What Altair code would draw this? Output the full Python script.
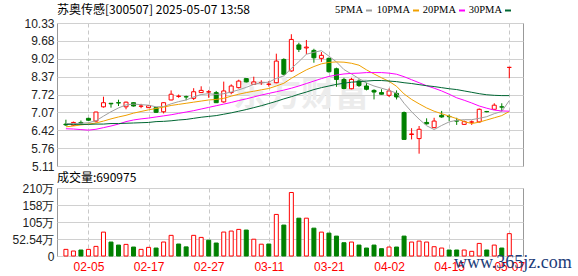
import json
import altair as alt
import pandas as pd

# ---------------- data ----------------
idx = list(range(60))
opens = [6.64, 6.60, 6.70, 6.85, 6.75, 7.27, 7.40, 7.42, 7.27, 7.42,
         7.29, 7.24, 7.24, 7.09, 7.52, 7.65, 7.64, 7.58, 7.79, 7.81,
         7.79, 7.45, 7.79, 7.97, 8.30, 8.09, 8.15, 8.09, 8.15, 9.00,
         8.58, 9.53, 9.42, 9.33, 9.04, 9.04, 8.66, 8.27, 7.93, 8.21,
         8.03, 7.87, 7.79, 7.69, 7.76, 7.06, 6.26, 6.11, 6.70, 6.51,
         6.96, 6.92, 6.76, 6.63, 6.71, 6.72, 7.10, 7.18, 7.27, 8.71]
highs = [6.80, 6.73, 6.77, 6.87, 7.09, 7.64, 7.40, 7.53, 7.46, 7.43,
         7.38, 7.33, 7.26, 7.43, 7.87, 7.72, 7.68, 7.95, 8.02, 7.88,
         7.85, 8.19, 8.09, 8.26, 8.31, 8.37, 8.24, 8.21, 9.21, 9.04,
         9.92, 9.61, 9.71, 9.39, 9.27, 9.07, 8.70, 8.33, 8.33, 8.27,
         8.15, 7.91, 7.91, 7.94, 7.87, 7.10, 6.49, 6.57, 6.85, 6.87,
         7.12, 6.99, 6.87, 6.77, 6.77, 7.21, 7.12, 7.40, 7.40, 8.71]
lows = [6.57, 6.57, 6.63, 6.76, 6.70, 7.24, 7.24, 7.30, 7.18, 7.28,
        7.22, 7.23, 7.05, 7.03, 7.51, 7.60, 7.51, 7.52, 7.78, 7.60,
        7.41, 7.42, 7.73, 7.94, 8.16, 8.07, 8.07, 8.01, 8.13, 8.42,
        8.55, 9.27, 9.19, 8.88, 8.91, 8.52, 8.00, 7.91, 7.91, 7.99,
        7.87, 7.54, 7.72, 7.63, 7.54, 6.08, 6.08, 5.56, 6.62, 6.49,
        6.87, 6.75, 6.61, 6.61, 6.61, 6.69, 7.07, 7.18, 7.12, 8.31]
closes = [6.61, 6.70, 6.68, 6.78, 7.08, 7.42, 7.38, 7.41, 7.44, 7.30,
          7.30, 7.31, 7.07, 7.42, 7.73, 7.66, 7.63, 7.82, 7.87, 7.82,
          7.42, 7.85, 8.03, 8.21, 8.18, 8.18, 8.16, 8.10, 8.94, 8.46,
          9.73, 9.37, 9.45, 9.06, 9.15, 8.55, 8.27, 7.94, 8.27, 8.05,
          7.91, 7.81, 7.73, 7.85, 7.63, 6.08, 6.28, 6.45, 6.65, 6.75,
          6.90, 6.91, 6.75, 6.73, 6.72, 7.18, 7.09, 7.33, 7.26, 8.71]
ma5 = [6.66, 6.66, 6.67, 6.69, 6.76, 6.93, 7.09, 7.23, 7.34, 7.37,
       7.35, 7.33, 7.27, 7.28, 7.38, 7.46, 7.52, 7.63, 7.72, 7.75,
       7.72, 7.75, 7.81, 7.89, 7.98, 8.09, 8.15, 8.17, 8.31, 8.40,
       8.67, 8.92, 9.19, 9.26, 9.32, 9.12, 8.91, 8.63, 8.47, 8.30,
       8.14, 8.03, 7.95, 7.87, 7.77, 7.40, 7.09, 6.82, 6.58, 6.44,
       6.59, 6.72, 6.78, 6.80, 6.80, 6.85, 6.91, 7.02, 7.10, 7.50]
ma10 = [6.54, 6.57, 6.61, 6.64, 6.68, 6.75, 6.83, 6.90, 6.96, 7.04,
        7.10, 7.16, 7.21, 7.26, 7.32, 7.36, 7.40, 7.44, 7.48, 7.52,
        7.54, 7.58, 7.66, 7.73, 7.79, 7.84, 7.89, 7.94, 8.03, 8.13,
        8.31, 8.47, 8.62, 8.74, 8.84, 8.89, 8.91, 8.90, 8.86, 8.79,
        8.62, 8.47, 8.33, 8.20, 8.02, 7.74, 7.54, 7.38, 7.23, 7.11,
        7.02, 6.93, 6.84, 6.73, 6.66, 6.71, 6.79, 6.87, 6.95, 7.10]
ma20 = [6.47, 6.46, 6.44, 6.42, 6.45, 6.51, 6.57, 6.64, 6.73, 6.79,
        6.83, 6.86, 6.90, 6.94, 6.98, 7.03, 7.08, 7.13, 7.19, 7.25,
        7.31, 7.37, 7.43, 7.50, 7.56, 7.63, 7.70, 7.76, 7.82, 7.88,
        7.95, 8.03, 8.12, 8.21, 8.30, 8.38, 8.43, 8.47, 8.49, 8.50,
        8.52, 8.52, 8.52, 8.50, 8.46, 8.37, 8.26, 8.15, 8.04, 7.95,
        7.85, 7.73, 7.60, 7.51, 7.41, 7.30, 7.22, 7.15, 7.12, 7.11]
ma30 = [6.63, 6.63, 6.63, 6.63, 6.64, 6.64, 6.66, 6.66, 6.67, 6.68,
        6.69, 6.70, 6.73, 6.74, 6.76, 6.79, 6.81, 6.85, 6.89, 6.92,
        6.95, 7.00, 7.05, 7.11, 7.17, 7.24, 7.31, 7.39, 7.47, 7.56,
        7.64, 7.73, 7.81, 7.90, 7.97, 8.03, 8.09, 8.13, 8.17, 8.19,
        8.21, 8.23, 8.23, 8.21, 8.19, 8.15, 8.12, 8.08, 8.04, 8.01,
        7.97, 7.93, 7.90, 7.85, 7.80, 7.75, 7.71, 7.69, 7.68, 7.68]
# volume in 万 (10k shares)
vols = [20.5, 15.4, 18.5, 20.5, 29.7, 73.8, 43.1, 33.8, 35.9, 27.7,
        20.5, 26.7, 24.6, 43.2, 63.8, 37.0, 28.2, 63.8, 57.5, 48.8,
        40.1, 74.0, 77.1, 82.2, 80.2, 51.9, 36.5, 37.0, 128.5, 95.6,
        196.3, 116.9, 116.9, 86.1, 73.8, 70.7, 61.5, 41.0, 43.1, 33.8,
        24.6, 33.8, 22.6, 27.7, 27.7, 61.5, 43.1, 46.1, 43.1, 28.7,
        24.6, 18.5, 18.5, 18.5, 14.4, 38.9, 18.5, 33.8, 24.6, 69.1]
vol_up = [1, 1, 0, 1, 1, 1, 0, 0, 1, 0,
          1, 1, 0, 1, 1, 0, 0, 1, 1, 0,
          0, 1, 1, 1, 0, 1, 1, 0, 1, 0,
          1, 0, 1, 0, 1, 0, 0, 0, 1, 0,
          0, 0, 0, 1, 0, 0, 1, 1, 1, 1,
          1, 0, 0, 1, 1, 1, 0, 1, 0, 1]

price_ticks = [5.11, 5.76, 6.42, 7.07, 7.72, 8.37, 9.02, 9.68, 10.33]
vol_ticks = [0, 52.54, 105.08, 157.62, 210.16]
vol_tick_labels = ["0", "52.54万", "105万", "158万", "210万"]
date_pos = [3, 11, 19, 27, 35, 43, 51, 59]
date_labels = ["02-05", "02-17", "02-27", "03-11", "03-21", "04-02", "04-15", "05-07"]

title_text = "苏奥传感[300507] 2025-05-07 13:58"
vol_title = "成交量:690975"
ma_names = ["5PMA", "10PMA", "20PMA", "30PMA"]

# ---------------- styles ----------------
RED, GREEN, WHITE = "#ff0000", "#008000", "#ffffff"
MA_COLORS = ["#a0a0a0", "#f0a000", "#ff00ff", "#006633"]
CJK = "Noto Sans CJK SC"
LAT = "Liberation Sans"

df = pd.DataFrame({"i": idx, "o": opens, "h": highs, "l": lows, "c": closes,
                   "ma5": ma5, "ma10": ma10, "ma20": ma20, "ma30": ma30,
                   "v": vols})
df["cc"] = [RED if c >= o else GREEN for o, c in zip(opens, closes)]
df["bf"] = [WHITE if c >= o else GREEN for o, c in zip(opens, closes)]
df["vc"] = [RED if u else GREEN for u in vol_up]
df["vf"] = [WHITE if u else GREEN for u in vol_up]

one = pd.DataFrame({"k": [0]})

PW, PH, VH = 466, 143, 68
x_scale = alt.Scale(domain=[-0.52, 60.16], nice=False, zero=False)
x_axis_price = alt.Axis(values=date_pos, grid=True, gridDash=[4, 3], gridColor="#c8c8c8",
                        labels=False, ticks=False, tickSize=0, domain=False, title=None)
date_expr = f"{json.dumps(date_labels)}[indexof({json.dumps(date_pos)}, datum.value)]"
x_axis_vol = alt.Axis(values=date_pos, grid=True, gridDash=[4, 3], gridColor="#c8c8c8",
                      labels=True, labelExpr=date_expr, labelColor=RED, labelFont=LAT,
                      labelFontSize=12, labelPadding=5, labelOverlap=False, labelFlush=False,
                      ticks=False, tickSize=0, domain=False, title=None)

p_scale = alt.Scale(domain=[5.11, 10.33], nice=False, zero=False)
p_axis = alt.Axis(values=price_ticks, format=".2f", grid=True, gridColor="#d0d0d0",
                  ticks=False, tickSize=0, domain=False, labelPadding=3,
                  labelFontSize=12, labelFont=LAT, labelColor="#222222",
                  labelOverlap=False, title=None)

vol_expr = f"{json.dumps(vol_tick_labels)}[indexof({json.dumps(vol_ticks)}, datum.value)]"
v_scale = alt.Scale(domain=[0, 210.16], nice=False, zero=True)
v_axis = alt.Axis(values=vol_ticks, labelExpr=vol_expr, grid=True, gridColor="#d0d0d0",
                  ticks=False, tickSize=0, domain=False, labelPadding=3,
                  labelFontSize=12, labelFont=LAT, labelColor="#222222",
                  labelOverlap=False, title=None)


def X(axis):
    return alt.X("i:Q", scale=x_scale, axis=axis)


def YP(field):
    return alt.Y(f"{field}:Q", scale=p_scale, axis=p_axis)


base = alt.Chart(df)

watermark = alt.Chart(one).mark_text(
    text="东方财富", font=CJK, fontSize=34, fontWeight="bold", color="#ececec",
    align="center", baseline="middle"
).encode(x=alt.value(244), y=alt.value(73))

anchor = alt.Chart(one).mark_rule(color="white", strokeWidth=1).encode(
    x=alt.value(-55.5), x2=alt.value(-55.5), y=alt.value(-21.5), y2=alt.value(-21.5))

wicks = base.mark_rule(strokeWidth=1).encode(
    x=X(x_axis_price), y=YP("l"), y2="h:Q",
    color=alt.Color("cc:N", scale=None))

bodies = base.mark_bar(size=4, strokeWidth=1, orient="vertical").encode(
    x=X(x_axis_price), y=YP("o"), y2="c:Q",
    fill=alt.Fill("bf:N", scale=None), stroke=alt.Stroke("cc:N", scale=None))

ma_layers = []
for name, col in zip(["ma5", "ma10", "ma20", "ma30"], MA_COLORS):
    ma_layers.append(base.mark_line(strokeWidth=1, color=col).encode(
        x=X(x_axis_price), y=YP(name)))

title = alt.Chart(one).mark_text(
    text=title_text, font=CJK, fontSize=12, color="#000000", align="left", baseline="middle"
).encode(x=alt.value(0), y=alt.value(-13.5))

legend_layers = []
text_ends = [306, 353, 399, 445]
for name, col, te in zip(ma_names, MA_COLORS, text_ends):
    legend_layers.append(alt.Chart(one).mark_text(
        text=name, font="Liberation Serif", fontSize=10.5, color="#000000",
        align="right", baseline="middle").encode(x=alt.value(te), y=alt.value(-13)))
    legend_layers.append(alt.Chart(one).mark_rule(color=col, strokeWidth=2).encode(
        x=alt.value(te + 3), x2=alt.value(te + 9), y=alt.value(-12.5)))

price = alt.layer(watermark, anchor, wicks, bodies, *ma_layers, title, *legend_layers).properties(
    width=PW, height=PH)

vbars = base.mark_bar(size=4, strokeWidth=1, orient="vertical").encode(
    x=X(x_axis_vol),
    y=alt.Y("v:Q", scale=v_scale, axis=v_axis),
    fill=alt.Fill("vf:N", scale=None), stroke=alt.Stroke("vc:N", scale=None))

vlabel = alt.Chart(one).mark_text(
    text=vol_title, font=CJK, fontSize=12, color="#000000", align="left", baseline="middle"
).encode(x=alt.value(0), y=alt.value(-10.3))

site = alt.Chart(one).mark_text(
    text="www.365jz.com", font="Liberation Serif", fontSize=18, color="#1c3c78",
    align="left", baseline="alphabetic"
).encode(x=alt.value(397), y=alt.value(80))

volume = alt.layer(vbars, vlabel, site).properties(width=PW, height=VH)

chart = alt.vconcat(price, volume, spacing=22, bounds="flush").properties(
    padding=0
).configure_view(stroke="#999999", strokeWidth=1)

chart.save("out.html", embed_options={"renderer": "svg", "actions": False})
